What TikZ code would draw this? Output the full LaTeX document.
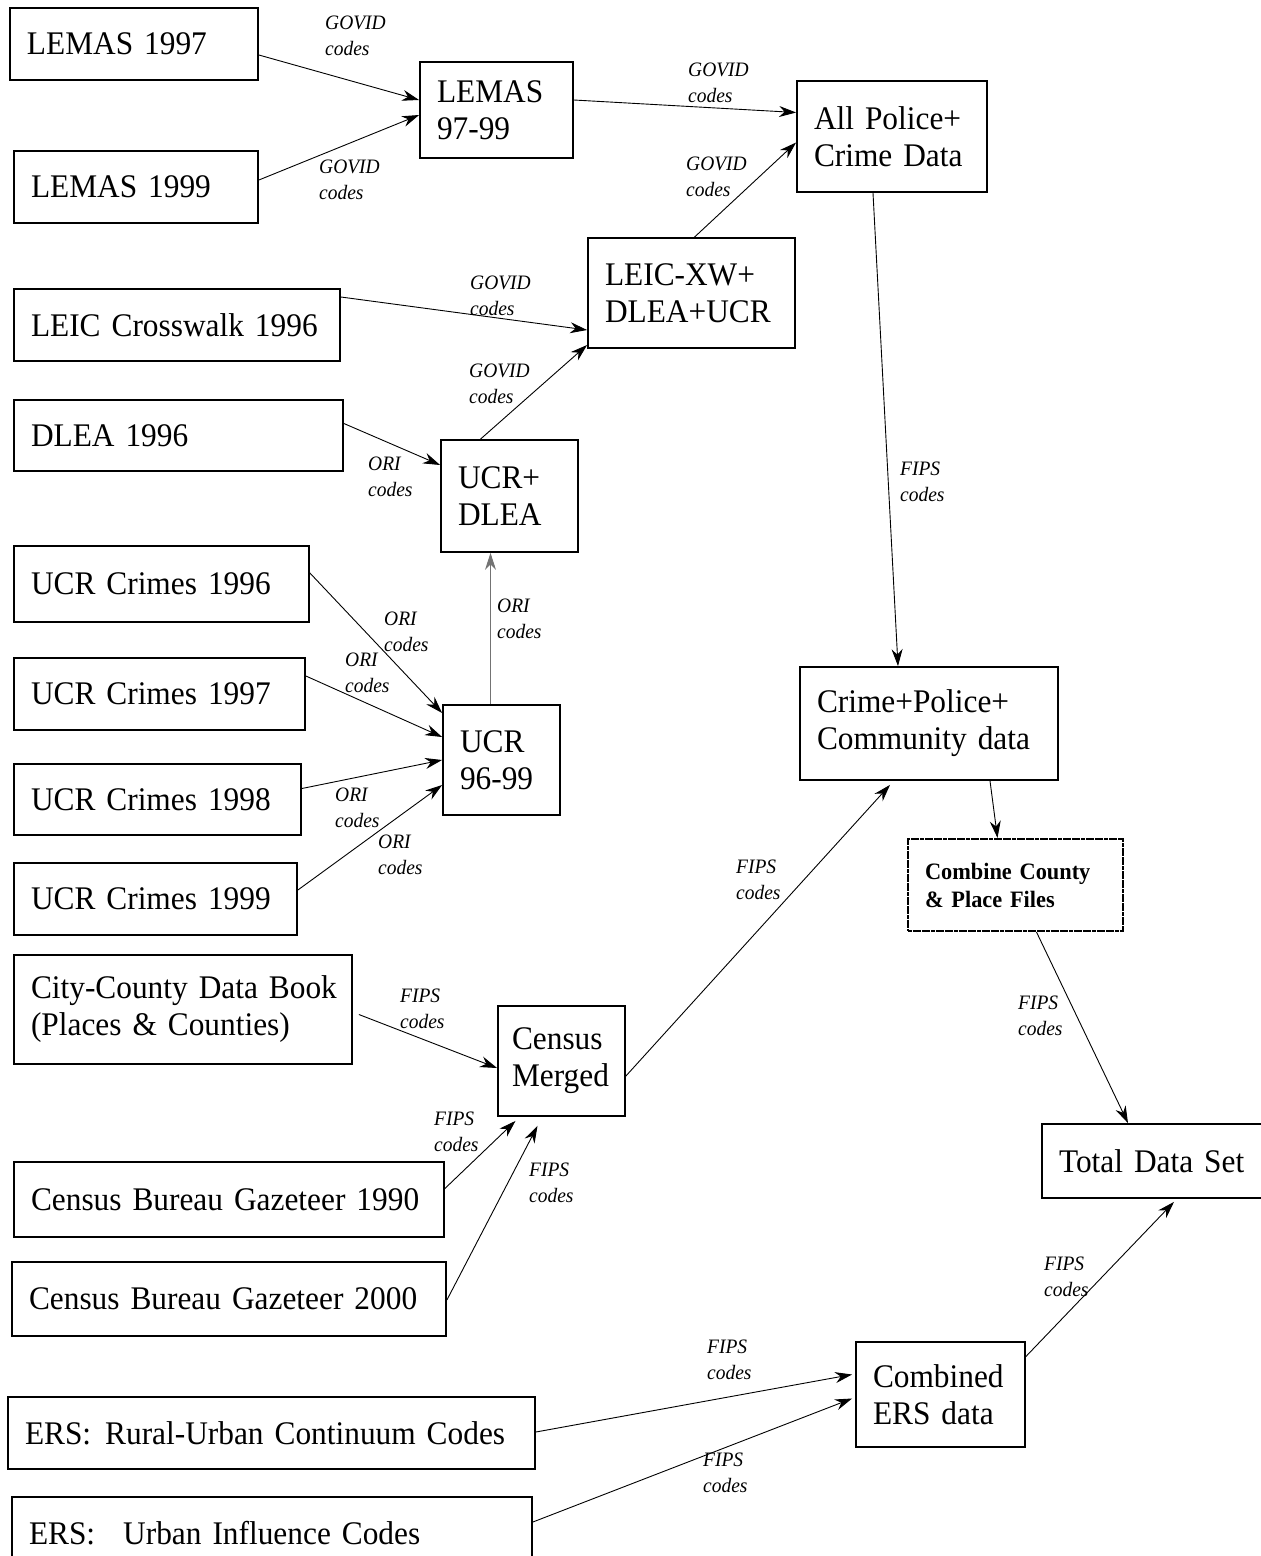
\documentclass[tikz,border=0pt]{standalone}
\usepackage{fontspec}
\setmainfont{Liberation Serif}[FakeStretch=0.95, WordSpace=0.8]
\usetikzlibrary{arrows.meta, calc}
\newcommand\boxfont{\fontsize{33}{37}\selectfont\hyphenpenalty=10000\exhyphenpenalty=10000}
\newcommand\codefont{\fontsize{20.5}{26}\selectfont\itshape}
\newcommand\stepfont{\fontsize{23.5}{28}\selectfont\bfseries}
\tikzset{
    databox/.style={
        draw, rectangle, line width=1.8pt, align=left, inner xsep=17pt, inner ysep=0pt, fill=white, text=black, font=\boxfont
    },
    combinebox/.style={
        databox, line width=2.2pt, dash pattern=on 4pt off 0.6pt, font=\stepfont
    },
    codelabel/.style={
        align=left, inner sep=0pt, anchor=west, text=black, font=\codefont
    },
    arrow/.style={
        line width=0.9pt, -{Stealth[length=17pt, width=11pt]}
    }
}

\begin{document}
\begin{tikzpicture}[x=1pt, y=-1pt]
    \useasboundingbox (0,0) rectangle (1261,1556);

    % boxes
    \node (lemas97) [databox, text width=214pt, minimum height=72pt] at (134,44) {LEMAS~1997};
    \node (lemas99) [databox, text width=210pt, minimum height=72pt] at (136,187) {LEMAS~1999};
    \node (lemas_all) [databox, text width=119pt, minimum height=96pt] at (496.5,110) {LEMAS\\97-99};
    \node (allpolice) [databox, text width=156pt, minimum height=111pt] at (892,136.5) {All~Police+\\Crime~Data};
    \node (leic_xw) [databox, text width=173pt, minimum height=110pt] at (691.5,293) {LEIC-XW+\\DLEA+UCR};
    \node (leic) [databox, text width=292pt, minimum height=72pt] at (177,325) {LEIC~Crosswalk~1996};
    \node (dlea) [databox, text width=295pt, minimum height=71pt] at (178.5,435.5) {DLEA~1996};
    \node (ucr_dlea) [databox, text width=103pt, minimum height=112pt] at (509.5,496) {UCR+\\DLEA};
    \node (ucr96) [databox, text width=261pt, minimum height=76pt] at (161.5,584) {UCR~Crimes~1996};
    \node (ucr97) [databox, text width=257pt, minimum height=72pt] at (159.5,694) {UCR~Crimes~1997};
    \node (ucr98) [databox, text width=253pt, minimum height=71pt] at (157.5,799.5) {UCR~Crimes~1998};
    \node (ucr99) [databox, text width=249pt, minimum height=72pt] at (155.5,899) {UCR~Crimes~1999};
    \node (ucr_all) [databox, text width=83pt, minimum height=110pt] at (501.5,760) {UCR\\96-99};
    \node (community) [databox, text width=224pt, minimum height=113pt] at (929,723.5) {Crime+Police+\\Community~data};
    \node (combine) [combinebox, text width=181pt, minimum height=92pt] at (1015.5,885) {Combine~County\\\&~Place~Files};
    \node (total) [databox, text width=190pt, minimum height=74pt] at (1154,1161) {Total~Data~Set};
    \node (citycounty) [databox, text width=304pt, minimum height=109pt] at (183,1009.5) {City-County~Data~Book\\(Places~\&~Counties)};
    \node (census) [databox, inner xsep=14pt, text width=99pt, minimum height=110pt] at (561.5,1061) {Census\\Merged};
    \node (gaz90) [databox, text width=396pt, minimum height=75pt] at (229,1199.5) {Census~Bureau~Gazeteer~1990};
    \node (gaz00) [databox, text width=400pt, minimum height=74pt] at (229,1299) {Census~Bureau~Gazeteer~2000};
    \node (ers) [databox, text width=135pt, minimum height=105pt] at (940.5,1394.5) {Combined\\ERS~data};
    \node (rural) [databox, text width=493pt, minimum height=72pt] at (271.5,1433) {ERS:\hspace{14pt}Rural-Urban~Continuum~Codes};
    \node (urban) [databox, text width=486pt, minimum height=72pt] at (272,1533) {ERS:\hspace{28pt}Urban~Influence~Codes};

    % link labels
    \node (c_lemas97) [codelabel] at (325,36) {GOVID\\codes};
    \node (c_lemas99) [codelabel] at (319,180) {GOVID\\codes};
    \node (c_lemas) [codelabel] at (688,83) {GOVID\\codes};
    \node (c_leicxw) [codelabel] at (686,177) {GOVID\\codes};
    \node (c_leic) [codelabel] at (470,296) {GOVID\\codes};
    \node (c_ucrdlea) [codelabel] at (469,384) {GOVID\\codes};
    \node (c_dlea) [codelabel] at (368,477) {ORI\\codes};
    \node (c_ucrall) [codelabel] at (497,619) {ORI\\codes};
    \node (c_ucr96) [codelabel] at (384,632) {ORI\\codes};
    \node (c_ucr97) [codelabel] at (345,673) {ORI\\codes};
    \node (c_ucr98) [codelabel] at (335,808) {ORI\\codes};
    \node (c_ucr99) [codelabel] at (378,855) {ORI\\codes};
    \node (c_allpolice) [codelabel] at (900,482) {FIPS\\codes};
    \node (c_combine) [codelabel] at (1018,1016) {FIPS\\codes};
    \node (c_citycounty) [codelabel] at (400,1009) {FIPS\\codes};
    \node (c_gaz90) [codelabel] at (434,1132) {FIPS\\codes};
    \node (c_gaz00) [codelabel] at (529,1183) {FIPS\\codes};
    \node (c_census) [codelabel] at (736,880) {FIPS\\codes};
    \node (c_rural) [codelabel] at (707,1360) {FIPS\\codes};
    \node (c_urban) [codelabel] at (703,1473) {FIPS\\codes};
    \node (c_ers) [codelabel] at (1044,1277) {FIPS\\codes};

    % arrows
    \draw [arrow] ($(lemas97.east)+(0,11)$) -- ($(lemas_all.west)+(0,-10)$);
    \draw [arrow] ($(lemas99.east)+(0,-7)$) -- ($(lemas_all.west)+(0,5)$);
    \draw [arrow] ($(lemas_all.east)+(0,-10)$) -- ($(allpolice.west)+(0,-24)$);
    \draw [arrow] ($(leic_xw.north)+(3,0)$) -- ($(allpolice.west)+(0,6)$);
    \draw [arrow] ($(leic.east)+(0,-28)$) -- ($(leic_xw.west)+(0,37)$);
    \draw [arrow] ($(ucr_dlea.north)+(-29,0)$) -- ($(leic_xw.west)+(0,52)$);
    \draw [arrow] ($(dlea.east)+(0,-12)$) -- ($(ucr_dlea.west)+(0,-31)$);
    \draw [arrow, black!55] ($(ucr_all.north)+(-11,0)$) -- ($(ucr_dlea.south)+(-19,0)$);
    \draw [arrow] ($(ucr96.east)+(0,-11)$) -- ($(ucr_all.west)+(0,-47)$);
    \draw [arrow] ($(ucr97.east)+(0,-18)$) -- ($(ucr_all.west)+(0,-23)$);
    \draw [arrow] ($(ucr98.east)+(0,-11)$) -- (ucr_all.west);
    \draw [arrow] ($(ucr99.east)+(0,-9)$) -- ($(ucr_all.west)+(0,25)$);
    \draw [arrow] ($(allpolice.south)+(-19,0)$) -- ($(community.north)+(-31,0)$);
    \draw [arrow] ($(community.south)+(61,0)$) -- ($(combine.north)+(-18,0)$);
    \draw [arrow] ($(combine.south)+(21,0)$) -- ($(total.north)+(-26,0)$);
    \draw [arrow] ($(citycounty.east)+(6,5)$) -- ($(census.west)+(0,7)$);
    \draw [arrow] ($(gaz90.east)+(0,-11)$) -- ($(census.south)+(-46,4)$);
    \draw [arrow] ($(gaz00.east)+(0,1)$) -- ($(census.south)+(-24,9)$);
    \draw [arrow] ($(census.east)+(0,15)$) -- ($(community.south)+(-39,4)$);
    \draw [arrow] ($(rural.east)+(0,-1)$) -- ($(ers.west)+(-3,-20)$);
    \draw [arrow] ($(urban.east)+(0,-11)$) -- ($(ers.west)+(-3,4)$);
    \draw [arrow] ($(ers.east)+(0,-38)$) -- ($(total.south)+(20,3)$);

\end{tikzpicture}
\end{document}
